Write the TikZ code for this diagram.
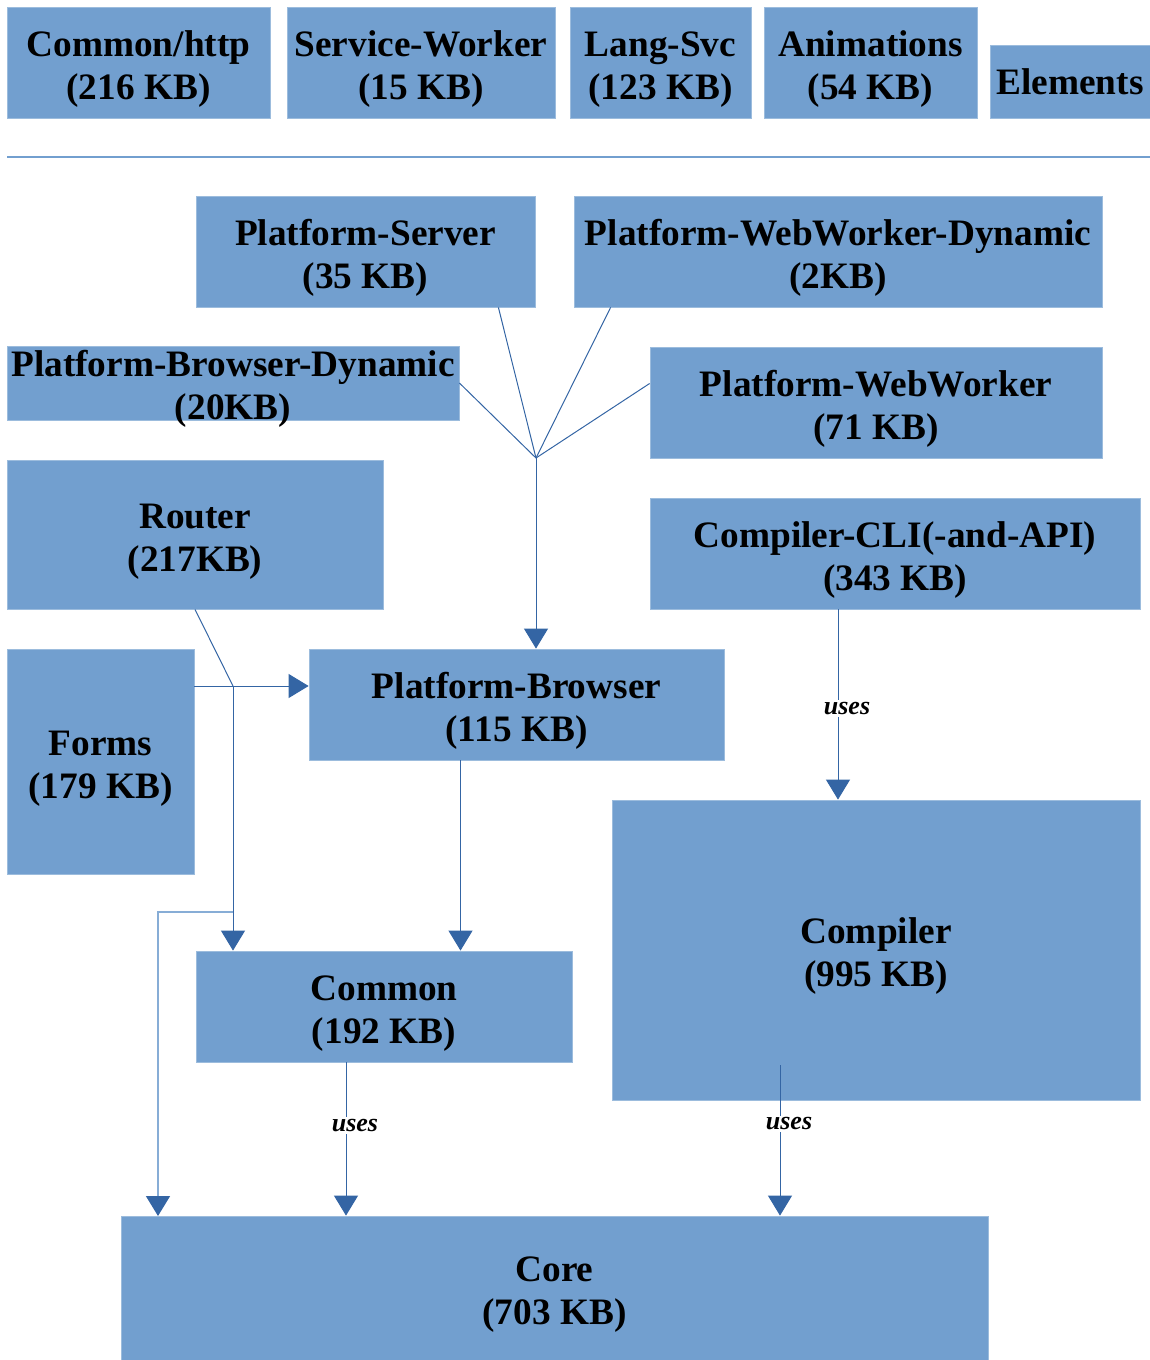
\documentclass[tikz,border=0pt]{standalone}
\usepackage{fontspec}
\setmainfont{Liberation Serif}
\usetikzlibrary{arrows.meta}
\definecolor{boxblue}{HTML}{729FCF}
\definecolor{linkblue}{HTML}{3465A4}
\tikzset{
	pkg/.style={rectangle, fill=boxblue, draw=boxblue!70!white, line width=0.8pt, inner sep=0pt, align=center, font=\fontsize{37.3}{43}\selectfont\bfseries},
	pkgtwo/.style={pkg, execute at begin node=\rule{0pt}{81pt}},
	link/.style={draw=linkblue, line width=1pt},
	usearrow/.style={link, -{Triangle[width=24pt,length=20pt,color=linkblue,fill=linkblue]}},
	uses/.style={fill=white, inner sep=2pt, font=\fontsize{26}{30}\selectfont\bfseries\itshape}
}
\begin{document}
\begin{tikzpicture}[x=1pt, y=-1pt]
	\useasboundingbox (0,0) rectangle (1150,1360);
	% top row
	\node[pkgtwo, minimum width=263, minimum height=111] (http) at (138.5,62.5) {Common/http\\(216 KB)};
	\node[pkgtwo, minimum width=268, minimum height=111] (sworker) at (421,62.5) {Service-Worker\\(15 KB)};
	\node[pkgtwo, minimum width=181, minimum height=111] (langsvc) at (660.5,62.5) {Lang-Svc\\(123 KB)};
	\node[pkgtwo, minimum width=213, minimum height=111] (anim) at (870.5,62.5) {Animations\\(54 KB)};
	\node[pkg, minimum width=160, minimum height=73] (elements) at (1070,82) {Elements};
	\draw[boxblue, line width=1.2pt] (7,157) -- (1150,157);
	
	% platforms
	\node[pkgtwo, minimum width=339, minimum height=111] (pserver) at (365.5,251.5) {Platform-Server\\(35 KB)};
	\node[pkgtwo, minimum width=528, minimum height=111] (pwwdyn) at (838,251.5) {Platform-WebWorker-Dynamic\\(2KB)};
	\node[pkg, minimum width=452, minimum height=74] (pbdyn) at (233,383) {};
	\node[pkgtwo, fill=none, draw=none] (pbdyntext) at (pbdyn.center) {Platform-Browser-Dynamic\\(20KB)};
	\node[pkgtwo, minimum width=452, minimum height=111] (pww) at (876,402.5) {Platform-WebWorker\\(71 KB)};
	\node[pkgtwo, minimum width=376, minimum height=149] (router) at (195,534.5) {Router\\(217KB)};
	\node[pkgtwo, minimum width=490, minimum height=111] (cli) at (895,553.5) {Compiler-CLI(-and-API)\\(343 KB)};
	\node[pkgtwo, minimum width=187, minimum height=225] (forms) at (100.5,761.5) {Forms\\(179 KB)};
	\node[pkgtwo, minimum width=415, minimum height=111] (pbrowser) at (516.5,704.5) {Platform-Browser\\(115 KB)};
	\node[pkgtwo, minimum width=528, minimum height=300] (compiler) at (876,950) {Compiler\\(995 KB)};
	\node[pkgtwo, minimum width=376, minimum height=111] (common) at (384,1006.5) {Common\\(192 KB)};
	\node[pkgtwo, minimum width=867, minimum height=144] (core) at (554.5,1288) {Core\\(703 KB)};
	
	% fan into platform-browser
	\coordinate (fan) at (536,458);
	\draw[link] ([xshift=-37pt]pserver.south east) -- (fan);
	\draw[link] ([xshift=37pt]pwwdyn.south west) -- (fan);
	\draw[link] (pbdyn.east) -- (fan);
	\draw[link] ([yshift=19pt]pww.west) -- (fan);
	\draw[usearrow] (fan) -- (fan |- pbrowser.north);
	
	% router and forms
	\coordinate (join) at (233,686);
	\coordinate (bend) at (233,912);
	\draw[link] (router.south) -- (join);
	\draw[usearrow] (forms.east |- join) -- (pbrowser.west |- join);
	\draw[usearrow] (join) -- (join |- common.north);
	\draw[usearrow, draw=boxblue!85!white, line width=1.5pt] (bend) -- (158,912) -- (158,1216);
	\draw[usearrow] ([xshift=-56pt]pbrowser.south) -- ([xshift=-56pt]pbrowser.south |- common.north);
	
	% uses
	\draw[usearrow] ([xshift=-57pt]cli.south) -- node[uses, pos=0.52, xshift=9pt] {uses} ([xshift=-57pt]cli.south |- compiler.north);
	\draw[usearrow] ([xshift=-38pt]common.south) -- node[uses, pos=0.41, xshift=9pt] {uses} ([xshift=-38pt]common.south |- core.north);
	\draw[usearrow] ([xshift=-96pt, yshift=35pt]compiler.south) -- node[uses, pos=0.39, xshift=9pt] {uses} ([xshift=-96pt]compiler.south |- core.north);
\end{tikzpicture}
\end{document}
